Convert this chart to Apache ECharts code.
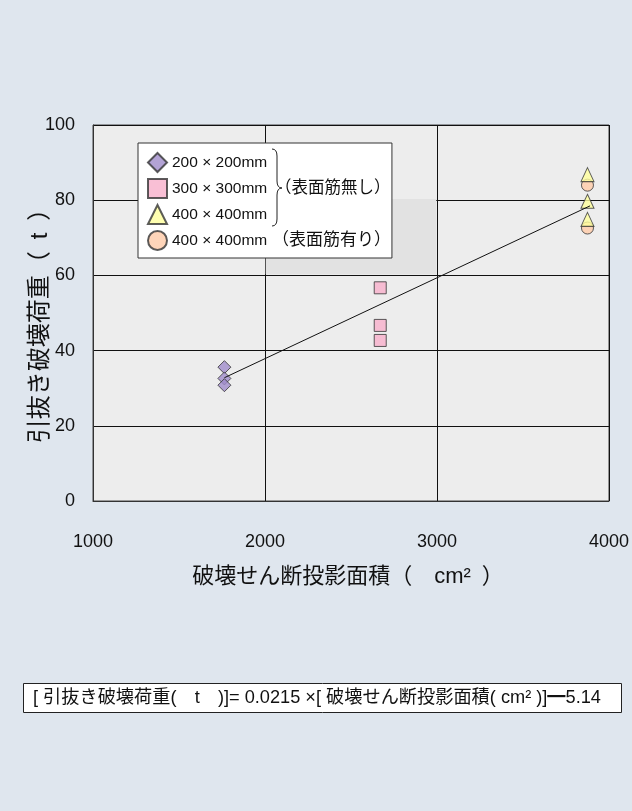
<!DOCTYPE html>
<html>
<head>
<meta charset="utf-8">
<script src="https://cdn.jsdelivr.net/npm/echarts@6/dist/echarts.min.js"></script>
<style>
  html, body { margin: 0; padding: 0; background: #dfe6ee; }
  #chart { width: 632px; height: 811px; }
</style>
</head>
<body>
<div id="chart"></div>
<script>
// Pull-out failure load vs. projected shear-failure area, by column section.
const sectionNames = ['200 × 200mm', '300 × 300mm', '400 × 400mm', '400 × 400mm （表面筋有り）'];

const area200 = [1764, 1764, 1764];
const load200 = [35.6, 32.6, 30.8];

const area300 = [2670, 2670, 2670];
const load300 = [56.7, 46.7, 42.7];

const area400 = [3875, 3875, 3875];
const load400 = [86.8, 79.7, 74.9];

const area400r = [3875, 3875];
const load400r = [84.0, 72.6];

// Regression: load = slope * area + intercept, drawn over the measured area range
const slope = 0.0215;
const intercept = -5.14;
const fitAreas = [1764, 3890];

const xTicks = [1000, 2000, 3000, 4000];
const yTicks = [0, 20, 40, 60, 80, 100];

const FONT = "'Liberation Sans', Arial, 'Noto Sans CJK JP', sans-serif";
const JFONT = "'Liberation Sans', 'Noto Sans CJK JP', sans-serif";

const zip = (xs, ys) => xs.map((x, i) => [x, ys[i]]);
const fitLine = fitAreas.map(a => [a, +(slope * a + intercept).toFixed(3)]);

const chart = echarts.init(document.getElementById('chart'), null, { renderer: 'canvas' });

const symbolBorder = { borderColor: '#333', borderWidth: 1 };

// curly brace made of curve and line pieces
const braceStroke = { fill: null, stroke: '#222', lineWidth: 1 };
const braceParts = [
  { type: 'bezierCurve', shape: { x1: 272, y1: 149, cpx1: 277, cpy1: 149, x2: 277, y2: 156 } },
  { type: 'line', shape: { x1: 277, y1: 156, x2: 277, y2: 181 } },
  { type: 'bezierCurve', shape: { x1: 277, y1: 181, cpx1: 277, cpy1: 188, x2: 282, y2: 188 } },
  { type: 'bezierCurve', shape: { x1: 282, y1: 188, cpx1: 277, cpy1: 188, x2: 277, y2: 195 } },
  { type: 'line', shape: { x1: 277, y1: 195, x2: 277, y2: 219 } },
  { type: 'bezierCurve', shape: { x1: 277, y1: 219, cpx1: 277, cpy1: 226, x2: 272, y2: 226 } }
].map(p => Object.assign(p, { z: 100, style: braceStroke }));

chart.setOption({
  backgroundColor: '#dfe6ee',
  animation: false,
  grid: {
    left: 93, right: 23, top: 125, bottom: 310,
    show: true, backgroundColor: '#ededed', borderColor: '#444', borderWidth: 1
  },
  xAxis: {
    type: 'value',
    min: xTicks[0], max: xTicks[xTicks.length - 1], interval: xTicks[1] - xTicks[0],
    axisLine: { show: true, lineStyle: { color: '#333', width: 1 } },
    axisTick: { show: false },
    splitLine: { show: true, lineStyle: { color: '#111', width: 1 } },
    axisLabel: { fontSize: 18, margin: 32, color: '#111', fontFamily: FONT, formatter: v => String(v) }
  },
  yAxis: {
    type: 'value',
    min: yTicks[0], max: yTicks[yTicks.length - 1], interval: yTicks[1] - yTicks[0],
    axisLine: { show: true, lineStyle: { color: '#333', width: 1 } },
    axisTick: { show: false },
    splitLine: { show: true, lineStyle: { color: '#111', width: 1 } },
    axisLabel: { fontSize: 18, margin: 18, color: '#111', fontFamily: FONT, formatter: v => String(v) }
  },
  legend: {
    orient: 'vertical',
    left: 138, top: 143,
    padding: [9, 1, 7, 9],
    itemWidth: 19, itemHeight: 19, itemGap: 5,
    backgroundColor: '#ffffff',
    borderColor: '#333', borderWidth: 1,
    selectedMode: false,
    formatter: name => {
      const i = name.indexOf(' （');
      return i < 0 ? '{a|' + name + '}' : '{a|' + name.slice(0, i) + '}{b|' + name.slice(i) + '}';
    },
    textStyle: {
      color: '#111',
      rich: {
        a: { fontSize: 15.5, fontFamily: JFONT, color: '#111' },
        b: { fontSize: 17, fontFamily: JFONT, color: '#111' }
      }
    },
    data: sectionNames
  },
  series: [
    {
      name: sectionNames[3], type: 'scatter', z: 3,
      symbol: 'circle', symbolSize: 12,
      itemStyle: Object.assign({ color: '#ffcaa8' }, symbolBorder),
      data: zip(area400r, load400r),
      markArea: {
        silent: true,
        itemStyle: { color: '#e2e2e2' },
        data: [[{ coord: [2004, 60.3] }, { coord: [2996, 80.3] }]]
      }
    },
    {
      name: sectionNames[2], type: 'scatter', z: 4,
      symbol: 'triangle', symbolSize: [13, 14],
      itemStyle: Object.assign({ color: '#ffff9c' }, symbolBorder),
      data: zip(area400, load400)
    },
    {
      name: sectionNames[1], type: 'scatter', z: 4,
      symbol: 'rect', symbolSize: 12,
      itemStyle: Object.assign({ color: '#f7afca' }, symbolBorder),
      data: zip(area300, load300)
    },
    {
      name: sectionNames[0], type: 'scatter', z: 4,
      symbol: 'diamond', symbolSize: 13,
      itemStyle: Object.assign({ color: '#a08ccb' }, symbolBorder),
      data: zip(area200, load200)
    },
    {
      name: 'fit', type: 'line', z: 6, silent: true,
      symbol: 'none',
      lineStyle: { color: '#111', width: 1 },
      data: fitLine
    }
  ],
  graphic: braceParts.concat([
    {
      type: 'text', z: 100, x: 275, y: 188,
      style: { text: '（表面筋無し）', font: '16.5px ' + JFONT, fill: '#111', verticalAlign: 'middle' }
    },
    // axis titles
    {
      type: 'text', z: 100, x: 40, y: 320, rotation: Math.PI / 2,
      style: { text: '引抜き破壊荷重（\u2002t\u2002）', font: '24px ' + JFONT, fill: '#111', align: 'center', verticalAlign: 'middle' }
    },
    {
      type: 'text', z: 100, x: 348, y: 577,
      style: { text: '破壊せん断投影面積（\u3000cm²\u2002）', font: '22px ' + JFONT, fill: '#111', align: 'center', verticalAlign: 'middle' }
    },
    // regression formula box
    {
      type: 'rect', z: 100,
      shape: { x: 23.5, y: 683.5, width: 598, height: 29 },
      style: { fill: '#ffffff', stroke: '#222', lineWidth: 1 }
    },
    {
      type: 'text', z: 101, x: 33, y: 698,
      style: {
        text: '[ 引抜き破壊荷重(\u3000t\u3000)]= ' + slope + ' ×[ 破壊せん断投影面積( cm² )]━' + Math.abs(intercept),
        font: '18.2px ' + JFONT, fill: '#111', verticalAlign: 'middle'
      }
    }
  ])
});
</script>
</body>
</html>
